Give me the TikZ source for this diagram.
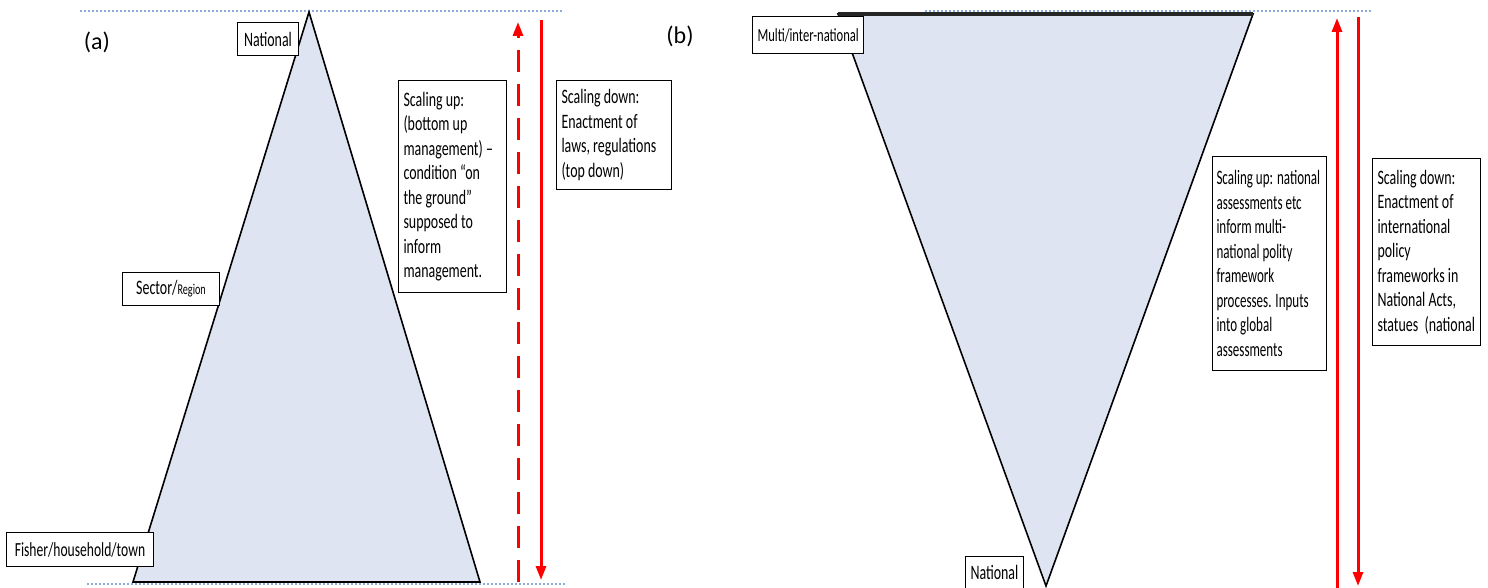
\documentclass[tikz,border=0pt]{standalone}
\usepackage{fontspec}
\setmainfont{Carlito}
\newfontfamily\boxfont[FakeStretch=0.68]{Carlito}
\newfontfamily\boxfontn[FakeStretch=0.635]{Carlito}
\usetikzlibrary{arrows.meta}
\definecolor{trifill}{RGB}{222,228,241}
\definecolor{dotblue}{RGB}{142,169,219}
\definecolor{arrred}{RGB}{255,0,0}
\tikzset{
  lbox/.style={draw=black, line width=1pt, fill=white, anchor=north west, inner xsep=5pt, inner ysep=4pt,
    font=\boxfont\fontsize{20.5}{24.5}\selectfont, align=flush left},
  tri/.style={draw=black, line width=1.6pt, fill=trifill, line join=miter},
  guide/.style={draw=dotblue, line width=1.5pt, dash pattern=on 2pt off 2pt},
  redarr/.style={draw=arrred, line width=3pt, -{Triangle[length=14pt,width=10pt]}},
  reddash/.style={redarr, dash pattern=on 22pt off 12pt},
  panel/.style={font=\fontsize{24}{28}\selectfont, inner sep=0pt}
}
\begin{document}
\begin{tikzpicture}[x=1pt,y=-1pt]
\useasboundingbox (0,0) rectangle (1488,588);
% ---------- panel (a) ----------
\draw[guide] (80,11) -- (562,11);
\draw[guide] (87,584) -- (565,584);
\draw[tri] (309,12) -- (480,582) -- (133,582) -- cycle;
\node[panel] (la) at (97,42) {(a)};
\node[lbox, minimum width=61pt, minimum height=33pt, align=center] (nat) at (237,22) {National};
\node[lbox, minimum width=97pt, minimum height=33pt, align=center] (sec) at (122,272) {Sector/{\fontsize{15}{18}\selectfont Region}};
\node[lbox, minimum width=147pt, minimum height=34pt, align=center, font=\boxfont\fontsize{20}{24}\selectfont] (fish) at (6,532) {Fisher/household/town};
\node[lbox, text width=98pt, minimum height=212pt] (upa) at (398,80) {Scaling up:\\(bottom up\\management) –\\condition “on\\the ground”\\supposed to\\inform\\management.};
\node[lbox, text width=105pt, minimum height=109pt] (downa) at (556,80) {Scaling down:\\Enactment of\\laws, regulations\\(top down)};
\coordinate (ua0) at (518,582);
\coordinate (ua1) at (518,22);
\coordinate (da0) at (541,20);
\coordinate (da1) at (541,580);
\draw[reddash] (ua0) -- (ua1);
\draw[redarr] (da0) -- (da1);
% ---------- panel (b) ----------
\draw[guide] (925,11) -- (1372,11);
\draw[tri] (838,14) -- (1253,14) -- (1046,586) -- cycle;
\draw[black!85, line width=3.5pt] (838,14) -- (1253,14);
\node[panel] (lb) at (680,36) {(b)};
\node[lbox, minimum width=111pt, minimum height=37pt, align=center, font=\boxfont\fontsize{18.5}{22}\selectfont] (multi) at (752,16) {Multi/inter-national};
\node[lbox, minimum width=57pt, minimum height=32pt, align=center] (natb) at (965,556) {National};
\node[lbox, text width=106pt, inner xsep=4pt, minimum height=214pt, font=\boxfontn\fontsize{20.5}{24.5}\selectfont] (upb) at (1212,156) {Scaling up: national\\assessments etc\\inform multi-\\national polity\\framework\\processes. Inputs\\into global\\assessments};
\node[lbox, text width=98pt, minimum height=187pt] (downb) at (1372,158) {Scaling down:\\Enactment of\\international\\policy\\frameworks in\\National Acts,\\statues~ (national};
\coordinate (ub0) at (1337,588);
\coordinate (ub1) at (1337,18);
\coordinate (db0) at (1358,17);
\coordinate (db1) at (1358,586);
\draw[redarr] (ub0) -- (ub1);
\draw[redarr] (db0) -- (db1);
\end{tikzpicture}
\end{document}
